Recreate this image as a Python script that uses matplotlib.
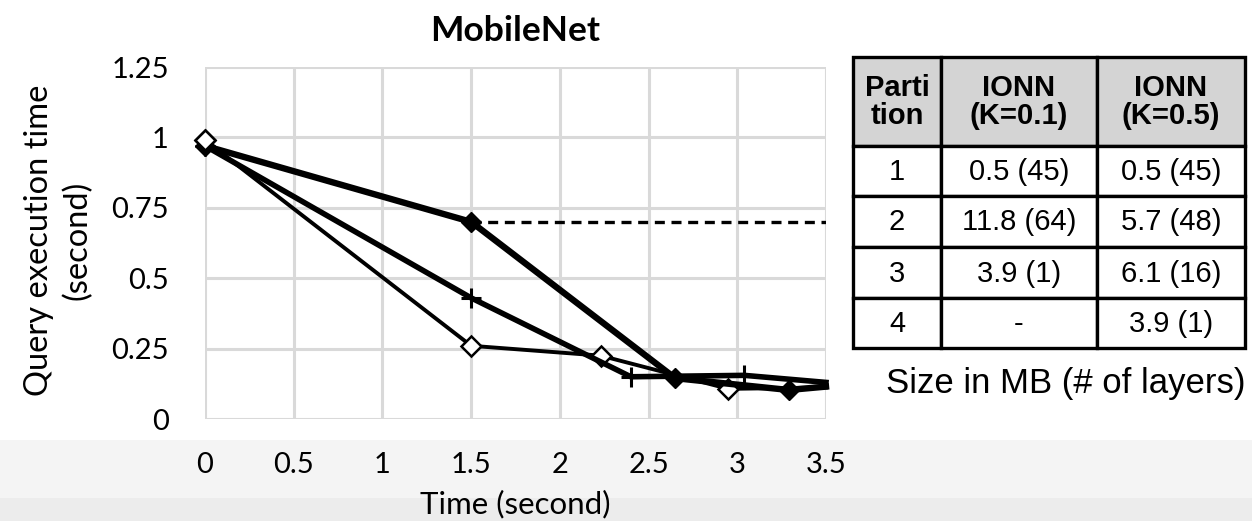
import matplotlib
matplotlib.use('Agg')
import matplotlib.pyplot as plt
from matplotlib.patches import Rectangle

# ---------------- data ----------------
time_filled = [0, 1.5, 2.65, 3.29, 3.5]
query_filled = [0.97, 0.70, 0.145, 0.103, 0.115]

time_plus = [0, 1.5, 2.4, 3.04, 3.5]
query_plus = [0.97, 0.43, 0.15, 0.155, 0.13]

time_open = [0, 1.5, 2.23, 2.95, 3.5]
query_open = [0.99, 0.26, 0.225, 0.107, 0.112]

time_dashed = [1.5, 3.5]
query_dashed = [0.70, 0.70]

x_ticks = [0, 0.5, 1, 1.5, 2, 2.5, 3, 3.5]
x_tick_labels = ['0', '0.5', '1', '1.5', '2', '2.5', '3', '3.5']
y_ticks = [0, 0.25, 0.5, 0.75, 1, 1.25]
y_tick_labels = ['0', '0.25', '0.5', '0.75', '1', '1.25']

table_header = ['Parti\ntion', 'IONN\n(K=0.1)', 'IONN\n(K=0.5)']
partitions = ['1', '2', '3', '4']
ionn_k01 = ['0.5 (45)', '11.8 (64)', '3.9 (1)', '-']
ionn_k05 = ['0.5 (45)', '5.7 (48)', '6.1 (16)', '3.9 (1)']
table_caption = 'Size in MB (# of layers)'

title = 'MobileNet'
x_label = 'Time (second)'
y_label = 'Query execution time\n(second)'

chart_font = 'Lato'
table_font = 'Liberation Sans'

# ---------------- figure ----------------
W, H = 1252, 521
fig = plt.figure(figsize=(W / 100, H / 100), dpi=100)
fig.patch.set_facecolor('white')

fig.patches.append(Rectangle((0, 0), 1, 1 - 440 / H, transform=fig.transFigure,
                             facecolor='#f4f4f4', edgecolor='none', zorder=-10))
fig.patches.append(Rectangle((0, 0), 1, 1 - 498 / H, transform=fig.transFigure,
                             facecolor='#ececec', edgecolor='none', zorder=-9))

ax = fig.add_axes([205 / W, 1 - 419 / H, 621 / W, 352 / H])
ax.set_facecolor('white')
ax.set_xlim(0, 3.5)
ax.set_ylim(0, 1.25)
ax.set_xticks(x_ticks)
ax.set_xticklabels(x_tick_labels)
ax.set_yticks(y_ticks)
ax.set_yticklabels(y_tick_labels)
for s in ax.spines.values():
    s.set_visible(False)
ax.grid(True, color='#d9d9d9', linewidth=2.2)
ax.set_axisbelow(True)
ax.tick_params(axis='both', length=0, labelsize=21)
ax.tick_params(axis='x', pad=24)
ax.tick_params(axis='y', pad=26)
for lab in ax.get_xticklabels() + ax.get_yticklabels():
    lab.set_family(chart_font)

n_f, n_p, n_o = len(time_filled), len(time_plus), len(time_open)
ax.plot(time_dashed, query_dashed, color='black', linestyle=(0, (3, 2)),
        linewidth=2.4, zorder=3)
ax.plot(time_open, query_open, color='black', linewidth=2.8, marker='D',
        markevery=list(range(n_o - 1)),
        markersize=10, markerfacecolor='white', markeredgecolor='black',
        markeredgewidth=1.8, zorder=4, clip_on=False)
ax.plot(time_plus, query_plus, color='black', linewidth=4.0, marker='+',
        markevery=list(range(n_p - 1)),
        markersize=15, markeredgewidth=2.2, zorder=5, clip_on=False)
ax.plot(time_filled, query_filled, color='black', linewidth=4.6, marker='D',
        markevery=list(range(n_f - 1)),
        markersize=10, markerfacecolor='black', zorder=6, clip_on=False)
ax.plot(time_open[:1], query_open[:1], linestyle='none', marker='D',
        markersize=10, markerfacecolor='white', markeredgecolor='black',
        markeredgewidth=1.8, zorder=7, clip_on=False)

ax.set_title(title, fontsize=25.5, fontweight='bold', family=chart_font, pad=19)
ax.set_xlabel(x_label, fontsize=22.5, family=chart_font, labelpad=8)
ax.set_ylabel(y_label, fontsize=23.5, family=chart_font, linespacing=1.35)
ax.yaxis.set_label_coords(93 / W, 1 - 240 / H, transform=fig.transFigure)

# ---------------- table ----------------
tax = fig.add_axes([0, 0, 1, 1])
tax.set_xlim(0, W)
tax.set_ylim(H, 0)
tax.axis('off')
col_edges = [853, 941, 1097, 1245]
row_edges = [57, 146, 196, 247, 298, 348]
rows = [table_header] + [[p, a, b] for p, a, b in zip(partitions, ionn_k01, ionn_k05)]
for r in range(len(rows)):
    y0, y1 = row_edges[r], row_edges[r + 1]
    for c in range(3):
        x0, x1 = col_edges[c], col_edges[c + 1]
        tax.add_patch(Rectangle((x0, y0), x1 - x0, y1 - y0,
                                facecolor='#d4d4d4' if r == 0 else 'white',
                                edgecolor='black', linewidth=2.4, zorder=2))
        tax.text((x0 + x1) / 2, (y0 + y1) / 2 + 1, rows[r][c], ha='center', va='center',
                 fontsize=21, family=table_font,
                 fontweight='bold' if r == 0 else 'normal',
                 linespacing=1.0, zorder=3)
tax.text(1245, 383, table_caption, ha='right', va='center', fontsize=25,
         family=table_font)

fig.savefig('out.png', dpi=100)
